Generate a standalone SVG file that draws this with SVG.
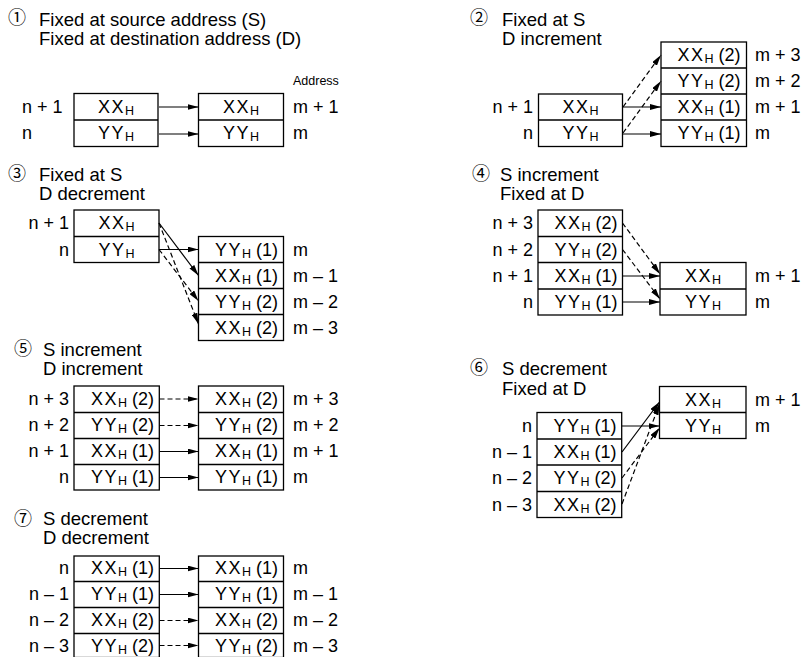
<svg xmlns="http://www.w3.org/2000/svg" width="804" height="657" viewBox="0 0 804 657">
<defs>
<style>
text{font-family:"Liberation Sans",Arial,sans-serif;font-size:18px;fill:#000}
.ttl{font-size:18.5px}
.num{font-family:"Noto Sans CJK JP","DejaVu Sans",sans-serif;font-size:18px}
.addr{font-size:12.5px}
.w{letter-spacing:1.5px}
.s{font-size:12.5px}
.e{text-anchor:end}
.m{text-anchor:middle}
.box{fill:#fff;stroke:#000;stroke-width:1.3}
.div{stroke:#000;stroke-width:1.3}
.a{stroke:#000;stroke-width:1.2;fill:none;marker-end:url(#ah)}
.d{stroke-dasharray:5 3}
</style>
<marker id="ah" viewBox="0 0 11 6" refX="11" refY="3" markerWidth="11" markerHeight="6" markerUnits="userSpaceOnUse" orient="auto"><path d="M0,0 L11,3 L0,6 z" fill="#000"/></marker>
</defs>
<rect width="804" height="657" fill="#fff"/>

<!-- Panel 1 -->
<g id="p1-title">
<text class="num" x="8" y="24">①</text>
<text class="ttl" x="39" y="25.5">Fixed at source address (S)</text>
<text class="ttl" x="39" y="44.5">Fixed at destination address (D)</text>
<text class="addr" x="293" y="85">Address</text>
</g>
<g id="p1-src">
<rect class="box" x="74" y="93.5" width="84" height="53"/>
<line class="div" x1="74" y1="120" x2="158" y2="120"/>
<text class="m" x="116" y="112.5"><tspan class="w">XX</tspan><tspan class="s" dy="2">H</tspan></text>
<text class="m" x="116" y="139"><tspan class="w">YY</tspan><tspan class="s" dy="2">H</tspan></text>
<text x="22" y="112.5">n + 1</text>
<text x="22" y="139">n</text>
</g>
<g id="p1-dst">
<rect class="box" x="198.5" y="93.5" width="85" height="53"/>
<line class="div" x1="198.5" y1="120" x2="283.5" y2="120"/>
<text class="m" x="241" y="112.5"><tspan class="w">XX</tspan><tspan class="s" dy="2">H</tspan></text>
<text class="m" x="241" y="139"><tspan class="w">YY</tspan><tspan class="s" dy="2">H</tspan></text>
<text x="293" y="112.5">m + 1</text>
<text x="293" y="139">m</text>
</g>

<!-- Panel 2 -->
<g id="p2-title">
<text class="num" x="470" y="24">②</text>
<text class="ttl" x="502" y="25.5">Fixed at S</text>
<text class="ttl" x="502" y="44.5">D increment</text>
</g>
<g id="p2-src">
<rect class="box" x="538.5" y="94" width="84" height="52.5"/>
<line class="div" x1="538.5" y1="120" x2="622.5" y2="120"/>
<text class="m" x="580.5" y="113"><tspan class="w">XX</tspan><tspan class="s" dy="2">H</tspan></text>
<text class="m" x="580.5" y="139"><tspan class="w">YY</tspan><tspan class="s" dy="2">H</tspan></text>
<text class="e" x="533" y="113">n + 1</text>
<text class="e" x="533" y="139">n</text>
</g>
<g id="p2-dst">
<rect class="box" x="661" y="42" width="85.5" height="104.5"/>
<line class="div" x1="661" y1="68" x2="746.5" y2="68"/>
<line class="div" x1="661" y1="94" x2="746.5" y2="94"/>
<line class="div" x1="661" y1="120" x2="746.5" y2="120"/>
<text x="677.5" y="61"><tspan class="w">XX</tspan><tspan class="s" dy="2">H</tspan><tspan dy="-2"> (2)</tspan></text>
<text x="677.5" y="87"><tspan class="w">YY</tspan><tspan class="s" dy="2">H</tspan><tspan dy="-2"> (2)</tspan></text>
<text x="677.5" y="113"><tspan class="w">XX</tspan><tspan class="s" dy="2">H</tspan><tspan dy="-2"> (1)</tspan></text>
<text x="677.5" y="139"><tspan class="w">YY</tspan><tspan class="s" dy="2">H</tspan><tspan dy="-2"> (1)</tspan></text>
<text x="755" y="61">m + 3</text>
<text x="755" y="87">m + 2</text>
<text x="755" y="113">m + 1</text>
<text x="755" y="139">m</text>
</g>

<!-- Panel 3 -->
<g id="p3-title">
<text class="num" x="8" y="180">③</text>
<text class="ttl" x="39" y="181">Fixed at S</text>
<text class="ttl" x="39" y="200">D decrement</text>
</g>
<g id="p3-src">
<rect class="box" x="74" y="210" width="85" height="52.5"/>
<line class="div" x1="74" y1="236.5" x2="159" y2="236.5"/>
<text class="m" x="116.5" y="229"><tspan class="w">XX</tspan><tspan class="s" dy="2">H</tspan></text>
<text class="m" x="116.5" y="255.5"><tspan class="w">YY</tspan><tspan class="s" dy="2">H</tspan></text>
<text class="e" x="69" y="229">n + 1</text>
<text class="e" x="69" y="255.5">n</text>
</g>
<g id="p3-dst">
<rect class="box" x="198.5" y="236.5" width="85" height="104"/>
<line class="div" x1="198.5" y1="262.5" x2="283.5" y2="262.5"/>
<line class="div" x1="198.5" y1="288.5" x2="283.5" y2="288.5"/>
<line class="div" x1="198.5" y1="314.5" x2="283.5" y2="314.5"/>
<text x="215" y="255.5"><tspan class="w">YY</tspan><tspan class="s" dy="2">H</tspan><tspan dy="-2"> (1)</tspan></text>
<text x="215" y="281.5"><tspan class="w">XX</tspan><tspan class="s" dy="2">H</tspan><tspan dy="-2"> (1)</tspan></text>
<text x="215" y="307.5"><tspan class="w">YY</tspan><tspan class="s" dy="2">H</tspan><tspan dy="-2"> (2)</tspan></text>
<text x="215" y="333.5"><tspan class="w">XX</tspan><tspan class="s" dy="2">H</tspan><tspan dy="-2"> (2)</tspan></text>
<text x="293" y="255.5">m</text>
<text x="293" y="281.5">m – 1</text>
<text x="293" y="307.5">m – 2</text>
<text x="293" y="333.5">m – 3</text>
</g>

<!-- Panel 4 -->
<g id="p4-title">
<text class="num" x="472" y="180">④</text>
<text class="ttl" x="500" y="180.5">S increment</text>
<text class="ttl" x="500" y="199.5">Fixed at D</text>
</g>
<g id="p4-src">
<rect class="box" x="538" y="210" width="84.5" height="105"/>
<line class="div" x1="538" y1="236.5" x2="622.5" y2="236.5"/>
<line class="div" x1="538" y1="262.5" x2="622.5" y2="262.5"/>
<line class="div" x1="538" y1="289" x2="622.5" y2="289"/>
<text x="554.5" y="229"><tspan class="w">XX</tspan><tspan class="s" dy="2">H</tspan><tspan dy="-2"> (2)</tspan></text>
<text x="554.5" y="255.5"><tspan class="w">YY</tspan><tspan class="s" dy="2">H</tspan><tspan dy="-2"> (2)</tspan></text>
<text x="554.5" y="281.5"><tspan class="w">XX</tspan><tspan class="s" dy="2">H</tspan><tspan dy="-2"> (1)</tspan></text>
<text x="554.5" y="308"><tspan class="w">YY</tspan><tspan class="s" dy="2">H</tspan><tspan dy="-2"> (1)</tspan></text>
<text class="e" x="533" y="229">n + 3</text>
<text class="e" x="533" y="255.5">n + 2</text>
<text class="e" x="533" y="281.5">n + 1</text>
<text class="e" x="533" y="308">n</text>
</g>
<g id="p4-dst">
<rect class="box" x="660" y="262.5" width="86" height="52.5"/>
<line class="div" x1="660" y1="289" x2="746" y2="289"/>
<text class="m" x="703" y="281.5"><tspan class="w">XX</tspan><tspan class="s" dy="2">H</tspan></text>
<text class="m" x="703" y="308"><tspan class="w">YY</tspan><tspan class="s" dy="2">H</tspan></text>
<text x="755" y="281.5">m + 1</text>
<text x="755" y="308">m</text>
</g>

<!-- Panel 5 -->
<g id="p5-title">
<text class="num" x="14" y="355">⑤</text>
<text class="ttl" x="43" y="355.5">S increment</text>
<text class="ttl" x="43" y="374.5">D increment</text>
</g>
<g id="p5-src">
<rect class="box" x="74" y="386" width="85.3" height="104"/>
<line class="div" x1="74" y1="412.5" x2="159.3" y2="412.5"/>
<line class="div" x1="74" y1="438.5" x2="159.3" y2="438.5"/>
<line class="div" x1="74" y1="464.5" x2="159.3" y2="464.5"/>
<text x="91" y="405"><tspan class="w">XX</tspan><tspan class="s" dy="2">H</tspan><tspan dy="-2"> (2)</tspan></text>
<text x="91" y="431"><tspan class="w">YY</tspan><tspan class="s" dy="2">H</tspan><tspan dy="-2"> (2)</tspan></text>
<text x="91" y="457"><tspan class="w">XX</tspan><tspan class="s" dy="2">H</tspan><tspan dy="-2"> (1)</tspan></text>
<text x="91" y="483"><tspan class="w">YY</tspan><tspan class="s" dy="2">H</tspan><tspan dy="-2"> (1)</tspan></text>
<text class="e" x="69" y="405">n + 3</text>
<text class="e" x="69" y="431">n + 2</text>
<text class="e" x="69" y="457">n + 1</text>
<text class="e" x="69" y="483">n</text>
</g>
<g id="p5-dst">
<rect class="box" x="198.5" y="386" width="85" height="104"/>
<line class="div" x1="198.5" y1="412.5" x2="283.5" y2="412.5"/>
<line class="div" x1="198.5" y1="438.5" x2="283.5" y2="438.5"/>
<line class="div" x1="198.5" y1="464.5" x2="283.5" y2="464.5"/>
<text x="215" y="405"><tspan class="w">XX</tspan><tspan class="s" dy="2">H</tspan><tspan dy="-2"> (2)</tspan></text>
<text x="215" y="431"><tspan class="w">YY</tspan><tspan class="s" dy="2">H</tspan><tspan dy="-2"> (2)</tspan></text>
<text x="215" y="457"><tspan class="w">XX</tspan><tspan class="s" dy="2">H</tspan><tspan dy="-2"> (1)</tspan></text>
<text x="215" y="483"><tspan class="w">YY</tspan><tspan class="s" dy="2">H</tspan><tspan dy="-2"> (1)</tspan></text>
<text x="293" y="405">m + 3</text>
<text x="293" y="431">m + 2</text>
<text x="293" y="457">m + 1</text>
<text x="293" y="483">m</text>
</g>

<!-- Panel 6 -->
<g id="p6-title">
<text class="num" x="470" y="374">⑥</text>
<text class="ttl" x="502" y="375">S decrement</text>
<text class="ttl" x="502" y="394.5">Fixed at D</text>
</g>
<g id="p6-dst">
<rect class="box" x="659.5" y="386.5" width="86.5" height="52"/>
<line class="div" x1="659.5" y1="412.5" x2="746" y2="412.5"/>
<text class="m" x="703" y="405.5"><tspan class="w">XX</tspan><tspan class="s" dy="2">H</tspan></text>
<text class="m" x="703" y="431.5"><tspan class="w">YY</tspan><tspan class="s" dy="2">H</tspan></text>
<text x="755" y="405.5">m + 1</text>
<text x="755" y="431.5">m</text>
</g>
<g id="p6-src">
<rect class="box" x="537" y="412.5" width="84.7" height="105"/>
<line class="div" x1="537" y1="439" x2="621.7" y2="439"/>
<line class="div" x1="537" y1="465" x2="621.7" y2="465"/>
<line class="div" x1="537" y1="491.5" x2="621.7" y2="491.5"/>
<text x="553.5" y="431.5"><tspan class="w">YY</tspan><tspan class="s" dy="2">H</tspan><tspan dy="-2"> (1)</tspan></text>
<text x="553.5" y="458"><tspan class="w">XX</tspan><tspan class="s" dy="2">H</tspan><tspan dy="-2"> (1)</tspan></text>
<text x="553.5" y="484"><tspan class="w">YY</tspan><tspan class="s" dy="2">H</tspan><tspan dy="-2"> (2)</tspan></text>
<text x="553.5" y="510.5"><tspan class="w">XX</tspan><tspan class="s" dy="2">H</tspan><tspan dy="-2"> (2)</tspan></text>
<text class="e" x="532" y="431.5">n</text>
<text class="e" x="532" y="458">n – 1</text>
<text class="e" x="532" y="484">n – 2</text>
<text class="e" x="532" y="510.5">n – 3</text>
</g>

<!-- Panel 7 -->
<g id="p7-title">
<text class="num" x="14" y="524.5">⑦</text>
<text class="ttl" x="43" y="525">S decrement</text>
<text class="ttl" x="43" y="544">D decrement</text>
</g>
<g id="p7-src">
<rect class="box" x="74" y="556" width="85.3" height="101.5"/>
<line class="div" x1="74" y1="581.5" x2="159.3" y2="581.5"/>
<line class="div" x1="74" y1="607.5" x2="159.3" y2="607.5"/>
<line class="div" x1="74" y1="633.5" x2="159.3" y2="633.5"/>
<text x="91" y="574"><tspan class="w">XX</tspan><tspan class="s" dy="2">H</tspan><tspan dy="-2"> (1)</tspan></text>
<text x="91" y="599.5"><tspan class="w">YY</tspan><tspan class="s" dy="2">H</tspan><tspan dy="-2"> (1)</tspan></text>
<text x="91" y="625.5"><tspan class="w">XX</tspan><tspan class="s" dy="2">H</tspan><tspan dy="-2"> (2)</tspan></text>
<text x="91" y="652"><tspan class="w">YY</tspan><tspan class="s" dy="2">H</tspan><tspan dy="-2"> (2)</tspan></text>
<text class="e" x="69" y="574">n</text>
<text class="e" x="69" y="599.5">n – 1</text>
<text class="e" x="69" y="625.5">n – 2</text>
<text class="e" x="69" y="652">n – 3</text>
</g>
<g id="p7-dst">
<rect class="box" x="198.5" y="556" width="85" height="101.5"/>
<line class="div" x1="198.5" y1="581.5" x2="283.5" y2="581.5"/>
<line class="div" x1="198.5" y1="607.5" x2="283.5" y2="607.5"/>
<line class="div" x1="198.5" y1="633.5" x2="283.5" y2="633.5"/>
<text x="215" y="574"><tspan class="w">XX</tspan><tspan class="s" dy="2">H</tspan><tspan dy="-2"> (1)</tspan></text>
<text x="215" y="599.5"><tspan class="w">YY</tspan><tspan class="s" dy="2">H</tspan><tspan dy="-2"> (1)</tspan></text>
<text x="215" y="625.5"><tspan class="w">XX</tspan><tspan class="s" dy="2">H</tspan><tspan dy="-2"> (2)</tspan></text>
<text x="215" y="652"><tspan class="w">YY</tspan><tspan class="s" dy="2">H</tspan><tspan dy="-2"> (2)</tspan></text>
<text x="293" y="574">m</text>
<text x="293" y="599.5">m – 1</text>
<text x="293" y="625.5">m – 2</text>
<text x="293" y="652">m – 3</text>
</g>

<g id="connectors">
<!-- P1 -->
<line class="a" x1="159" y1="107" x2="198.5" y2="107"/>
<line class="a" x1="159" y1="134" x2="198.5" y2="134"/>
<!-- P2 -->
<line class="a" x1="623" y1="107" x2="661" y2="107"/>
<line class="a" x1="623" y1="134" x2="661" y2="134"/>
<line class="a d" x1="623" y1="107" x2="661" y2="55"/>
<line class="a d" x1="623" y1="133" x2="661" y2="81"/>
<!-- P3 -->
<line class="a" x1="159" y1="249.5" x2="198.5" y2="249.5"/>
<line class="a" x1="159" y1="223" x2="198.5" y2="275.5"/>
<line class="a d" x1="159" y1="223" x2="198.5" y2="324"/>
<line class="a d" x1="159" y1="249.5" x2="198.5" y2="301"/>
<!-- P4 -->
<line class="a" x1="622.5" y1="276" x2="660" y2="276"/>
<line class="a" x1="622.5" y1="302" x2="660" y2="302"/>
<line class="a d" x1="622.5" y1="223" x2="660" y2="274"/>
<line class="a d" x1="622.5" y1="249.5" x2="660" y2="299"/>
<!-- P5 -->
<line class="a d" x1="159.5" y1="399" x2="198.5" y2="399"/>
<line class="a d" x1="159.5" y1="425.5" x2="198.5" y2="425.5"/>
<line class="a" x1="159.5" y1="451.5" x2="198.5" y2="451.5"/>
<line class="a" x1="159.5" y1="477.5" x2="198.5" y2="477.5"/>
<!-- P6 -->
<line class="a" x1="622" y1="426" x2="659.5" y2="426"/>
<line class="a" x1="622" y1="452" x2="659.5" y2="402"/>
<line class="a d" x1="622" y1="478" x2="659.5" y2="428"/>
<line class="a d" x1="622" y1="504" x2="659.5" y2="404"/>
<!-- P7 -->
<line class="a" x1="159.5" y1="568.5" x2="198.5" y2="568.5"/>
<line class="a" x1="159.5" y1="594.5" x2="198.5" y2="594.5"/>
<line class="a d" x1="159.5" y1="620.5" x2="198.5" y2="620.5"/>
<line class="a d" x1="159.5" y1="645.5" x2="198.5" y2="645.5"/>
</g>
</svg>
